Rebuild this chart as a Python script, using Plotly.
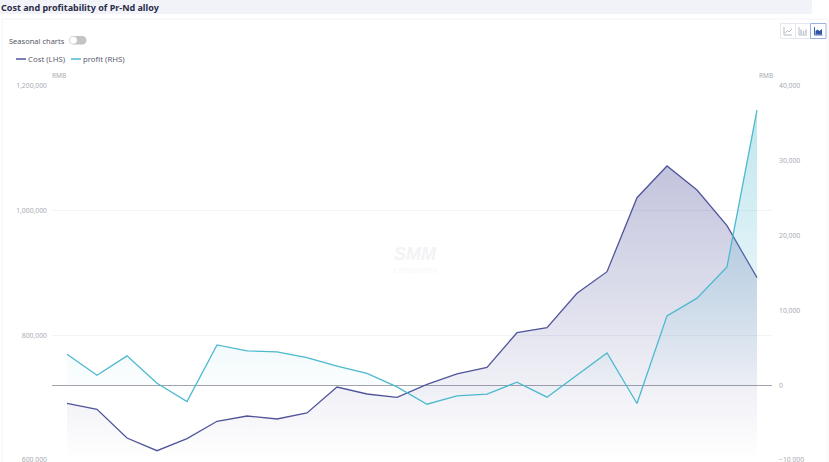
import plotly.graph_objects as go

W, H = 829, 490
L, R, T, B = 52, 772, 86, 460
categories = [f"P{i:02d}" for i in range(1, 25)]
cost = [691000, 681300, 635300, 614900, 634200, 662100, 670600, 665800, 675400, 717100, 705900, 700600,
        721400, 738000, 748700, 804200, 812200, 867400, 902100, 1020800, 1071700, 1033200, 975900, 892500]
profit = [4150, 1340, 3920, 270, -2180, 5390, 4590, 4450, 3700, 2540, 1570, -230,
          -2540, -1430, -1200, 400, -1600, 1340, 4320, -2450, 9270, 11640, 15820, 36790]
left_ticks = [600000, 800000, 1000000, 1200000]
right_ticks = [-10000, 0, 10000, 20000, 30000, 40000]

COST = "#50559b"
PROFIT = "#4cb9cf"
FONT = "Noto Sans"
TICK = "#a9abb2"
GRID = "#f2f3f8"

fig = go.Figure()
fig.add_trace(go.Scatter(
    x=categories, y=cost, name="Cost (LHS)", mode="lines", yaxis="y",
    line=dict(color=COST, width=1.3), fill="tozeroy",
    fillgradient=dict(type="vertical", start=1071700, stop=600000,
                      colorscale=[[0, "rgba(70,75,150,0.33)"], [1, "rgba(70,75,150,0.0)"]]),
))
fig.add_trace(go.Scatter(
    x=categories, y=profit, name="profit (RHS)", mode="lines", yaxis="y2",
    line=dict(color=PROFIT, width=1.3), fill="tozeroy",
    fillgradient=dict(type="vertical", start=36790, stop=-2540,
                      colorscale=[[0, "rgba(76,185,207,0.36)"], [1, "rgba(76,185,207,0.0)"]]),
))


def px(x):
    return (x - L) / (R - L)


def py(y):
    return 1 - (y - T) / (B - T)


def rect(x0, y0, x1, y1, fill="rgba(0,0,0,0)", line=None, w=1):
    return dict(type="rect", xref="paper", yref="paper", x0=px(x0), x1=px(x1), y0=py(y0), y1=py(y1),
                fillcolor=fill, line=dict(color=line or "rgba(0,0,0,0)", width=w if line else 0), layer="below")


def seg(x0, y0, x1, y1, color, w=1.5):
    return dict(type="line", xref="paper", yref="paper", x0=px(x0), x1=px(x1), y0=py(y0), y1=py(y1),
                line=dict(color=color, width=w), layer="above")


shapes = [
    rect(0, 0, 812, 14, fill="#f2f3f9"),
    rect(2, 19, 828, 500, fill="#ffffff", line="#f3f4f8"),
    # legend keys
    seg(16, 59, 26, 59, COST),
    seg(71, 59, 81, 59, PROFIT),
    # toggle
    dict(rect(73, 36, 82, 44.5, fill="#c4c4c6"), layer="above"),
    dict(type="circle", xref="paper", yref="paper", layer="above", fillcolor="#c4c4c6", line=dict(width=0),
         x0=px(78), x1=px(86.5), y0=py(36), y1=py(44.5)),
    dict(type="circle", xref="paper", yref="paper", layer="above", fillcolor="#ffffff", line=dict(color="#c4c4c6", width=0.7),
         x0=px(69.3), x1=px(77.3), y0=py(36.2), y1=py(44.2)),
    # view buttons
    dict(rect(780.5, 23.5, 795.5, 38.5, fill="#ffffff", line="#e6e8ef"), layer="above"),
    dict(rect(795.5, 23.5, 810.5, 38.5, fill="#ffffff", line="#e6e8ef"), layer="above"),
    dict(rect(810.5, 23.5, 826, 38.5, fill="#ffffff", line="#9db1de"), layer="above"),
    # icon 1
    seg(784, 27, 784, 35, "#a5a9b8", 0.8), seg(784, 35, 792, 35, "#a5a9b8", 0.8),
    seg(785, 33, 787.5, 30.5, "#a5a9b8", 0.8), seg(787.5, 30.5, 789, 32, "#a5a9b8", 0.8), seg(789, 32, 792, 29, "#a5a9b8", 0.8),
    # icon 2
    seg(799, 27, 799, 35, "#a5a9b8", 0.8), seg(799, 35, 807, 35, "#a5a9b8", 0.8),
    seg(801, 29.5, 801, 34.5, "#c3c6d2", 1.5), seg(803.5, 31, 803.5, 34.5, "#c3c6d2", 1.5), seg(806, 29.5, 806, 34.5, "#c3c6d2", 1.5),
    # icon 3
    seg(814.5, 27, 814.5, 35, "#2f55a8", 0.9), seg(814.5, 35, 822.5, 35, "#2f55a8", 0.9),
    dict(type="path", xref="paper", yref="paper", layer="above", fillcolor="#2f55a8", line=dict(width=0),
         path=f"M {px(815.5)} {py(34.5)} L {px(815.5)} {py(31)} L {px(817.5)} {py(29.5)} L {px(819.5)} {py(31)} L {px(822)} {py(29)} L {px(822)} {py(34.5)} Z"),
]


def note(x, y, text, size=8.5, color="#55586a", anchor="left", family=FONT):
    return dict(xref="paper", yref="paper", x=px(x), y=py(y), text=text, showarrow=False, xanchor=anchor,
                yanchor="middle", borderpad=0, borderwidth=0, font=dict(family=family, size=size, color=color))


annotations = [
    note(1, 7, "<b>Cost and profitability of Pr-Nd alloy</b>", size=9, color="#2a2d47"),
    note(9, 41, "Seasonal charts", size=7.5, color="#555866"),
    note(28, 59, "Cost (LHS)", size=7.8, color="#5d6070"),
    note(83, 59, "profit (RHS)", size=7.8, color="#5d6070"),
    note(59, 75, "RMB", size=6.5, color=TICK, anchor="center"),
    note(766, 75, "RMB", size=6.5, color=TICK, anchor="center"),
    note(415, 254, "<b><i>SMM</i></b>", size=18, color="#f3f3f5", anchor="center", family="Liberation Sans"),
    note(415, 270, "13730987016", size=7, color="#f6f6f7", anchor="center"),
]

fig.update_layout(
    width=W, height=H, autosize=False, showlegend=False,
    margin=dict(l=L, r=W - R, t=T, b=H - B, pad=0),
    paper_bgcolor="#ffffff", plot_bgcolor="rgba(0,0,0,0)",
    font=dict(family=FONT, size=7, color=TICK),
    shapes=shapes, annotations=annotations,
    xaxis=dict(type="category", categoryorder="array", categoryarray=categories, range=[-0.5, 23.5],
               showgrid=False, showticklabels=False, ticks="", showline=False, zeroline=False),
    yaxis=dict(range=[600000, 1200000], tickvals=left_ticks, tickformat=",", gridcolor=GRID, gridwidth=1,
               zeroline=False, showline=False, ticks="", ticklabelstandoff=4,
               tickfont=dict(family=FONT, size=6.8, color=TICK), automargin=False),
    yaxis2=dict(range=[-10000, 40000], tickvals=right_ticks, tickformat=",", overlaying="y", side="right",
                showgrid=False, zeroline=True, zerolinecolor="#a3a3ad", zerolinewidth=1, showline=False, ticks="",
                ticklabelstandoff=6, tickfont=dict(family=FONT, size=6.8, color=TICK), automargin=False),
)

fig.write_html("out.html", config=dict(displayModeBar=False),
               post_script="document.body.style.margin='0';document.documentElement.style.overflow='hidden';document.body.style.overflow='hidden';")
